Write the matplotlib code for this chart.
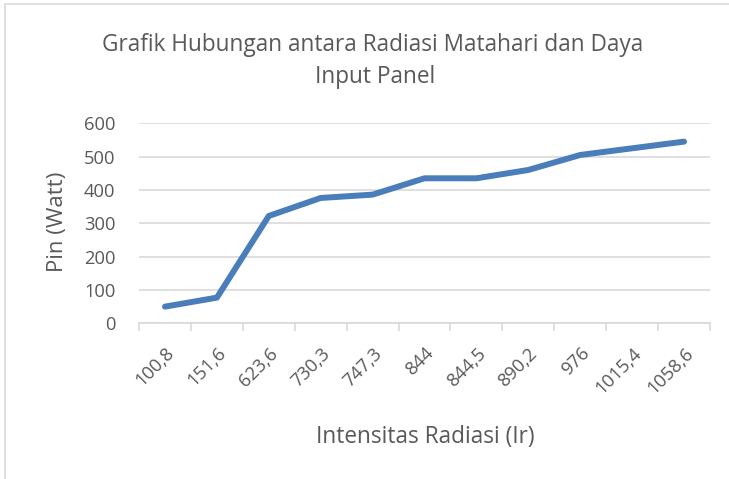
import matplotlib.pyplot as plt
from matplotlib.patches import Rectangle

# data
intensitas = ['100,8', '151,6', '623,6', '730,3', '747,3', '844', '844,5',
              '890,2', '976', '1015,4', '1058,6']
pin = [50, 77, 322, 376, 386, 435, 435, 460, 505, 525, 545]

grey = '#595959'
plt.rcParams['font.family'] = ['Open Sans', 'DejaVu Sans']

fig = plt.figure(figsize=(7.29, 4.79), dpi=100)
# chart border (only top/left visible in the reference)
fig.patches.append(Rectangle((5 / 729, -0.1), 1.2, 1 - 4 / 479 + 0.1,
                             transform=fig.transFigure, fill=False,
                             edgecolor='#d9d9d9', linewidth=1.2))

ax = fig.add_axes([139 / 729, 1 - 323.3 / 479, 571 / 729, 200 / 479])
x = list(range(len(intensitas)))
ax.plot(x, pin, color='#4a7ebb', linewidth=4.3, solid_capstyle='round',
        solid_joinstyle='round', zorder=3)

ax.set_xlim(-0.5, len(intensitas) - 0.5)
ax.set_ylim(0, 600)
ax.set_yticks(range(0, 601, 100))
ax.yaxis.grid(True, color='#d9d9d9', linewidth=1.2)
ax.set_axisbelow(True)

# category boundary ticks
ax.set_xticks([i - 0.5 for i in range(len(intensitas) + 1)], minor=False)
ax.set_xticklabels([])
ax.tick_params(axis='x', length=6, color='#d9d9d9', width=1.2)
ax.set_xticks(x, minor=True)
ax.set_xticklabels(intensitas, minor=True, rotation=45, ha='right',
                   rotation_mode='anchor', fontsize=13.2, color=grey)
ax.tick_params(axis='x', which='minor', length=0, pad=15)
ax.tick_params(axis='y', length=0, labelsize=13.2, labelcolor=grey, pad=17)

for s in ['top', 'right', 'left']:
    ax.spines[s].set_visible(False)
ax.spines['bottom'].set_color('#d9d9d9')
ax.spines['bottom'].set_linewidth(1.2)

fig.text(373 / 729, 1 - 45 / 479, 'Grafik Hubungan antara Radiasi Matahari dan Daya',
         ha='center', va='center', fontsize=16.3, color=grey)
fig.text(375 / 729, 1 - 77 / 479, 'Input Panel',
         ha='center', va='center', fontsize=16.3, color=grey)
fig.text(58 / 729, 1 - 222 / 479, 'Pin (Watt)', rotation=90,
         ha='center', va='center', fontsize=16, color=grey)
fig.text(425 / 729, 1 - 437 / 479, 'Intensitas Radiasi (Ir)',
         ha='center', va='center', fontsize=16.3, color=grey)

fig.savefig('out.png', dpi=100)
